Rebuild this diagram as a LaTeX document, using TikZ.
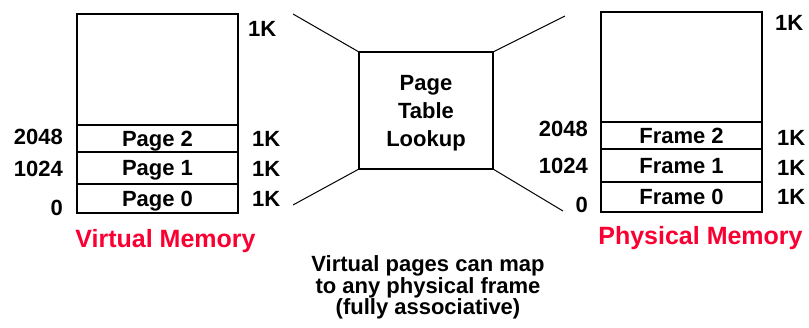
\documentclass[tikz,border=0pt]{standalone}
\usepackage{fontspec}
\setmainfont{Liberation Sans}
\definecolor{memred}{RGB}{250,0,50}
\begin{document}
\begin{tikzpicture}[x=1pt,y=-1pt,
  cell/.style={draw, line width=1.1pt, inner sep=0pt, outer sep=0pt, anchor=north west,
    font=\fontsize{22}{22}\selectfont\bfseries, text height=15.7pt, text depth=0pt},
  txt/.style={font=\fontsize{22}{22}\selectfont\bfseries, inner sep=0pt, anchor=base},
  addr/.style={txt, anchor=base east},
  size/.style={txt, anchor=base west},
  title/.style={font=\fontsize{25}{25}\selectfont\bfseries, text=memred, inner sep=0pt, anchor=base},
  link/.style={line width=1pt}]
\useasboundingbox (0,0) rectangle (809,328);

% virtual memory column
\node[cell, minimum width=161pt, minimum height=111pt] (vtop) at (77,14) {};
\node[cell, minimum width=161pt, minimum height=27pt] (vp2) at (77,125) {Page 2};
\node[cell, minimum width=161pt, minimum height=32pt] (vp1) at (77,152) {Page 1};
\node[cell, minimum width=161pt, minimum height=29pt] (vp0) at (77,184) {Page 0};
\node[size] (vk3) at (248,37) {1K};
\node[size] (vk2) at (252,147) {1K};
\node[size] (vk1) at (252,177) {1K};
\node[size] (vk0) at (252,207) {1K};
\node[addr] (va2) at (63,145) {2048};
\node[addr] (va1) at (63,177) {1024};
\node[addr] (va0) at (63,216) {0};
\node[title] (vtitle) at (165.5,248) {Virtual Memory};

% page table
\node[cell, minimum width=134pt, minimum height=117pt] (pt) at (359,52) {};
\node[txt] (pt1) at (426,91) {Page};
\node[txt] (pt2) at (426,119) {Table};
\node[txt] (pt3) at (426,147) {Lookup};
\coordinate (tl) at (293,14);
\coordinate (bl) at (293,205);
\coordinate (tr) at (565,16);
\coordinate (br) at (563,211);
\draw[link] (pt.north west) -- (tl);
\draw[link] (pt.south west) -- (bl);
\draw[link] (pt.north east) -- (tr);
\draw[link] (pt.south east) -- (br);

% physical memory column
\node[cell, minimum width=161pt, minimum height=110pt] (ptop) at (601,12) {};
\node[cell, minimum width=161pt, minimum height=27pt] (pf2) at (601,122) {Frame 2};
\node[cell, minimum width=161pt, minimum height=33pt] (pf1) at (601,149) {Frame 1};
\node[cell, minimum width=161pt, minimum height=30pt] (pf0) at (601,182) {Frame 0};
\node[size] (pk3) at (775,31) {1K};
\node[size] (pk2) at (777,146) {1K};
\node[size] (pk1) at (777,176) {1K};
\node[size] (pk0) at (777,205) {1K};
\node[addr] (pa2) at (588,137) {2048};
\node[addr] (pa1) at (588,174) {1024};
\node[addr] (pa0) at (588,213) {0};
\node[title] (ptitle) at (700.5,245) {Physical Memory};

% caption
\node[txt] (cap1) at (428,272) {Virtual pages can map};
\node[txt] (cap2) at (428,293.5) {to any physical frame};
\node[txt] (cap3) at (428,315) {(fully associative)};
\end{tikzpicture}
\end{document}
